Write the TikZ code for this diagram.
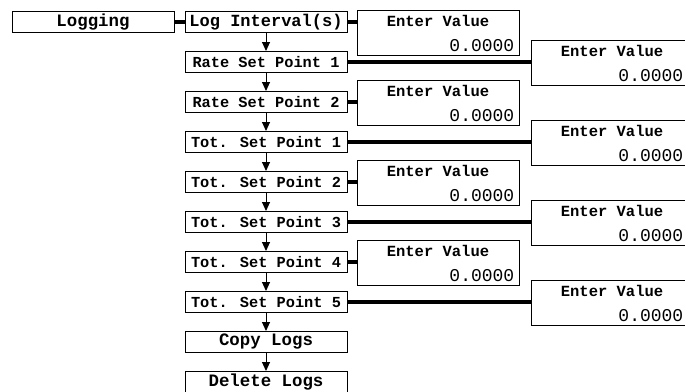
\documentclass[tikz,border=0pt]{standalone}
\usepackage{fontspec}
\newfontfamily\cour{Liberation Mono}
\usetikzlibrary{arrows.meta}
\tikzset{
  mainbox/.style={draw=black, line width=1pt, fill=white, minimum width=162pt, minimum height=21pt, inner sep=0pt, font=\cour\bfseries\fontsize{15.3}{16}\selectfont},
  shortlbl/.style={font=\cour\bfseries\fontsize{17.4}{18}\selectfont},
  valbox/.style={draw=black, line width=1pt, fill=white, minimum width=162pt, minimum height=45pt, inner sep=0pt},
  evtext/.style={anchor=base, inner sep=0pt, font=\cour\bfseries\fontsize{15.5}{16}\selectfont},
  numtext/.style={anchor=base east, inner sep=0pt, font=\cour\fontsize{18}{19}\selectfont},
  link/.style={line width=4pt, black},
  flow/.style={line width=1pt, -{Triangle[width=8pt,length=9pt]}}
}
\begin{document}
\begin{tikzpicture}[x=1pt,y=-1pt]
\clip (0,0) rectangle (685,391);
\useasboundingbox (0,0) rectangle (685,391);

\node[mainbox, shortlbl] (log) at (93,22) {Logging};
\node[mainbox, font=\cour\bfseries\fontsize{17}{18}\selectfont] (m0) at (266,22) {Log Interval(s)};
\node[mainbox] (m1) at (266,62) {Rate Set Point 1};
\node[mainbox] (m2) at (266,102) {Rate Set Point 2};
\node[mainbox] (m3) at (266,142) {Tot. Set Point 1};
\node[mainbox] (m4) at (266,182) {Tot. Set Point 2};
\node[mainbox] (m5) at (266,222) {Tot. Set Point 3};
\node[mainbox] (m6) at (266,262) {Tot. Set Point 4};
\node[mainbox] (m7) at (266,302) {Tot. Set Point 5};
\node[mainbox, shortlbl] (m8) at (266,342) {Copy Logs};
\node[mainbox, shortlbl] (m9) at (266,382) {Delete Logs};

\node[valbox] (v0) at (438,32.5) {};
\node[valbox] (v1) at (612,62.5) {};
\node[valbox] (v2) at (438,102.5) {};
\node[valbox] (v3) at (612,142.5) {};
\node[valbox] (v4) at (438,182.5) {};
\node[valbox] (v5) at (612,222.5) {};
\node[valbox] (v6) at (438,262.5) {};
\node[valbox] (v7) at (612,302.5) {};

\foreach \i in {0,2,4,6} {
  \node[evtext] (ev\i) at ([yshift=-17pt]v\i.north) {Enter Value};
  \node[numtext] (nv\i) at ([xshift=-5pt,yshift=4pt]v\i.south east) {0.0000};
}
\foreach \i in {1,3,5,7} {
  \node[evtext] (ev\i) at ([yshift=-17pt]v\i.north) {Enter Value};
  \node[numtext] (nv\i) at ([xshift=-10pt,yshift=4pt]v\i.south east) {0.0000};
}

\draw[link] (log.east) -- (m0.west);
\foreach \i in {0,...,7} {
  \draw[link] (m\i.east) -- (m\i.east -| v\i.west);
}
\foreach \i/\j in {0/1,1/2,2/3,3/4,4/5,5/6,6/7,7/8,8/9} {
  \draw[flow] (m\i.south) -- (m\j.north);
}
\end{tikzpicture}
\end{document}
